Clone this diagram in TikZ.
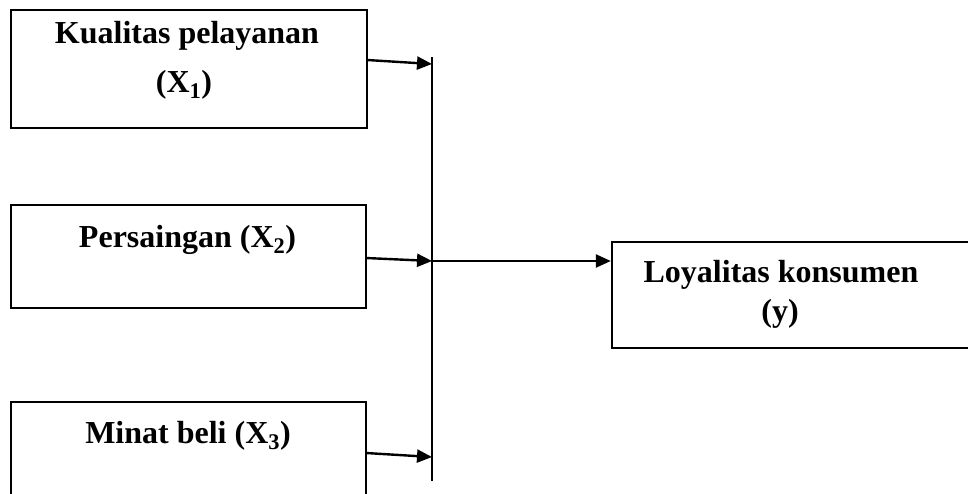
\documentclass[tikz,border=0pt]{standalone}
\usepackage{fontspec}
\setmainfont{Liberation Serif}
\usetikzlibrary{arrows.meta}
\begin{document}
\begin{tikzpicture}[x=1pt,y=-1pt,
  box/.style={draw,line width=2.4pt,minimum width=#1,inner sep=0pt},
  lbl/.style={anchor=base,inner sep=0pt,font=\fontsize{32}{36}\selectfont\bfseries},
  link/.style={line width=2.4pt,-{Triangle[length=15pt,width=13pt]}},
  bar/.style={line width=2.2pt}]
\useasboundingbox (0,0) rectangle (968,493);
\clip (0,0) rectangle (968,493);
% input boxes
\node[box=356pt,minimum height=118pt] (b1) at (189,69) {};
\node[box=355pt,minimum height=103pt] (b2) at (188.5,256.5) {};
\node[box=355pt,minimum height=118pt] (b3) at (188.5,461) {};
% output box
\node[box=378pt,minimum height=106pt] (b4) at (801,295) {};
% labels
\node[lbl] (t1a) at (187,43) {Kualitas pelayanan};
\node[lbl] (t1b) at (184,92) {(X\textsubscript{1})};
\node[lbl] (t2) at (187.5,247) {Persaingan (X\textsubscript{2})};
\node[lbl] (t3) at (188,443) {Minat beli (X\textsubscript{3})};
\node[lbl] (t4a) at (781,282) {Loyalitas konsumen};
\node[lbl] (t4b) at (780,321) {(y)};
% collector line
\coordinate (top) at (432,57);
\coordinate (bot) at (432,481);
\draw[bar] (top) -- (bot);
% arrow ends
\coordinate (s1) at (367,60);
\coordinate (e1) at (432,64);
\coordinate (s2) at (366,258);
\coordinate (e2) at (432,261);
\coordinate (s3) at (366,453);
\coordinate (e3) at (432,457);
\draw[link] (s1) -- (e1);
\draw[link] (s2) -- (e2);
\draw[link] (s3) -- (e3);
\draw[link] (e2) -- (b4.west |- e2);
\end{tikzpicture}
\end{document}
